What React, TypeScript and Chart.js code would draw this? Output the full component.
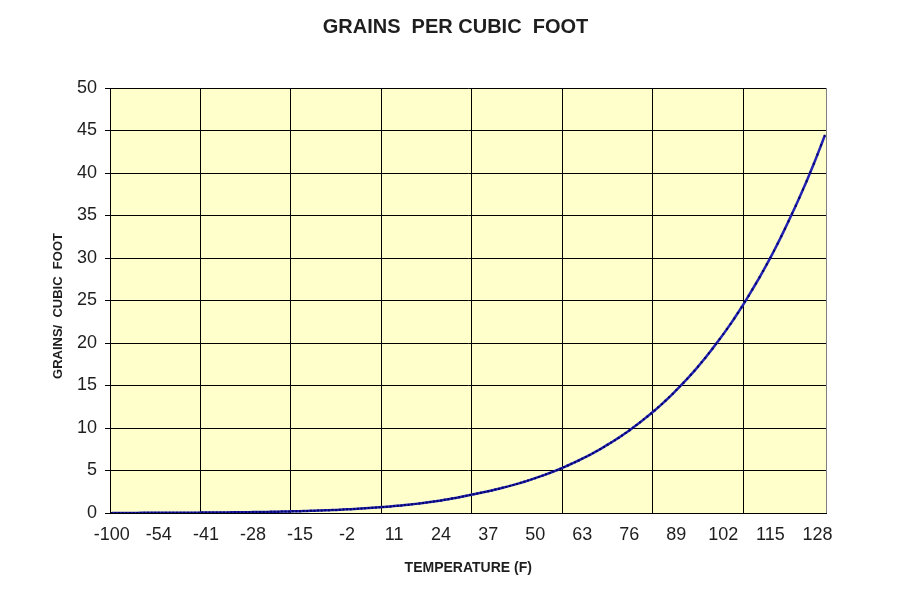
import React, { useEffect, useRef } from 'react';
import { Chart, registerables } from 'chart.js';

Chart.register(...registerables);

const TITLE = 'GRAINS  PER CUBIC  FOOT';
const X_TITLE = 'TEMPERATURE (F)';
const Y_TITLE = 'GRAINS/  CUBIC  FOOT';

const temperatures = [
  -100,
  -66, -65, -64, -63, -62, -61, -60,
  -59, -58, -57, -56, -55, -54, -53, -52, -51, -50,
  -49, -48, -47, -46, -45, -44, -43, -42, -41, -40,
  -39, -38, -37, -36, -35, -34, -33, -32, -31, -30,
  -29, -28, -27, -26, -25, -24, -23, -22, -21, -20,
  -19, -18, -17, -16, -15, -14, -13, -12, -11, -10,
  -9, -8, -7, -6, -5, -4, -3, -2, -1, 0,
  1, 2, 3, 4, 5, 6, 7, 8, 9, 10,
  11, 12, 13, 14, 15, 16, 17, 18, 19, 20,
  21, 22, 23, 24, 25, 26, 27, 28, 29, 30,
  31, 32, 33, 34, 35, 36, 37, 38, 39, 40,
  41, 42, 43, 44, 45, 46, 47, 48, 49, 50,
  51, 52, 53, 54, 55, 56, 57, 58, 59, 60,
  61, 62, 63, 64, 65, 66, 67, 68, 69, 70,
  71, 72, 73, 74, 75, 76, 77, 78, 79, 80,
  81, 82, 83, 84, 85, 86, 87, 88, 89, 90,
  91, 92, 93, 94, 95, 96, 97, 98, 99, 100,
  101, 102, 103, 104, 105, 106, 107, 108, 109, 110,
  111, 112, 113, 114, 115, 116, 117, 118, 119, 120,
  121, 122, 123, 124, 125, 126, 127, 128, 129, 130,
];

const grainsPerCubicFoot = [
  0.0007,
  0.0098, 0.0105, 0.0112, 0.0119, 0.0128, 0.0136, 0.0146,
  0.0156, 0.0166, 0.0178, 0.019, 0.0203, 0.0216, 0.0231, 0.0246, 0.0263, 0.0281,
  0.0299, 0.0318, 0.0338, 0.036, 0.0383, 0.0407, 0.0433, 0.0461, 0.049, 0.0522,
  0.0554, 0.0587, 0.0623, 0.0661, 0.0701, 0.0744, 0.0789, 0.0837, 0.0888, 0.0942,
  0.0997, 0.1054, 0.1115, 0.118, 0.1248, 0.132, 0.1397, 0.1478, 0.1563, 0.1654,
  0.1745, 0.1842, 0.1943, 0.205, 0.2164, 0.2283, 0.2409, 0.2542, 0.2683, 0.2831,
  0.298, 0.314, 0.33, 0.348, 0.366, 0.385, 0.406, 0.427, 0.449, 0.473,
  0.497, 0.522, 0.548, 0.576, 0.605, 0.635, 0.667, 0.701, 0.736, 0.773,
  0.81, 0.849, 0.89, 0.933, 0.978, 1.025, 1.074, 1.126, 1.18, 1.237,
  1.294, 1.354, 1.416, 1.481, 1.55, 1.621, 1.696, 1.774, 1.856, 1.941,
  2.029, 2.119, 2.2, 2.284, 2.372, 2.463, 2.557, 2.655, 2.757, 2.861,
  2.966, 3.074, 3.187, 3.304, 3.425, 3.55, 3.68, 3.815, 3.955, 4.1,
  4.244, 4.392, 4.546, 4.705, 4.87, 5.04, 5.217, 5.399, 5.588, 5.784,
  5.977, 6.177, 6.383, 6.596, 6.817, 7.044, 7.28, 7.523, 7.774, 8.038,
  8.296, 8.561, 8.836, 9.119, 9.411, 9.713, 10.024, 10.345, 10.677, 11.016,
  11.354, 11.702, 12.061, 12.431, 12.812, 13.205, 13.61, 14.027, 14.457, 14.899,
  15.337, 15.788, 16.252, 16.73, 17.222, 17.728, 18.249, 18.786, 19.338, 19.906,
  20.468, 21.045, 21.639, 22.249, 22.877, 23.522, 24.186, 24.868, 25.57, 26.289,
  27.0, 27.731, 28.481, 29.252, 30.044, 30.857, 31.692, 32.549, 33.43, 34.333,
  35.226, 36.143, 37.083, 38.048, 39.038, 40.054, 41.096, 42.165, 43.262, 44.39,
];

const LABEL_EVERY = 13;
const GRID_EVERY = 25;
const Y_MIN = 0;
const Y_MAX = 50;
const Y_STEP = 5;

const FONT = 'Arial, "Liberation Sans", sans-serif';
const TEXT = '#1e1e1e';

const decor = {
  id: 'decor',
  beforeDraw(chart: any) {
    const { ctx, chartArea: a } = chart;
    ctx.save();
    ctx.fillStyle = '#ffffff';
    ctx.fillRect(0, 0, chart.width, chart.height);
    ctx.fillStyle = '#FFFFCC';
    ctx.fillRect(a.left, a.top, a.right - a.left, a.bottom - a.top);
    ctx.restore();
  },
  beforeDatasetsDraw(chart: any) {
    const { ctx, chartArea: a } = chart;
    ctx.save();
    ctx.strokeStyle = '#808080';
    ctx.lineWidth = 1;
    ctx.beginPath();
    ctx.moveTo(Math.round(a.right) - 0.5, a.top);
    ctx.lineTo(Math.round(a.right) - 0.5, a.bottom);
    ctx.stroke();
    ctx.restore();
  },
  afterDraw(chart: any) {
    const { ctx } = chart;
    ctx.save();
    ctx.fillStyle = TEXT;
    ctx.font = `bold 20px ${FONT}`;
    ctx.textAlign = 'center';
    ctx.textBaseline = 'middle';
    ctx.fillText(TITLE, 455.5, 27.5);
    ctx.font = `bold 13px ${FONT}`;
    ctx.translate(58, 306);
    ctx.rotate(-Math.PI / 2);
    ctx.fillText(Y_TITLE, 0, 0);
    ctx.restore();
  },
};

export default function App() {
  const ref = useRef<HTMLCanvasElement | null>(null);

  useEffect(() => {
    if (!ref.current) return;
    Chart.defaults.font.family = FONT;
    const chart = new Chart(ref.current, {
      type: 'line',
      data: {
        labels: temperatures.map(String),
        datasets: [
          {
            data: grainsPerCubicFoot,
            borderColor: '#2222b4',
            borderWidth: 2.5,
            tension: 0,
            pointStyle: 'rect',
            pointRadius: 1.4,
            pointBackgroundColor: '#000060',
            pointBorderColor: '#000060',
            pointBorderWidth: 0,
            fill: false,
          },
        ],
      },
      options: {
        responsive: false,
        animation: false,
        events: [],
        layout: { padding: { top: 88, right: 74.5, bottom: 0, left: 0 } },
        plugins: {
          legend: { display: false },
          tooltip: { enabled: false },
          title: { display: false },
        },
        scales: {
          x: {
            type: 'category',
            offset: true,
            afterFit(scale: any) {
              scale.height = 100;
            },
            grid: {
              offset: true,
              drawTicks: false,
              lineWidth: 1,
              color: (c: any) => (c.index % GRID_EVERY === 0 ? '#000000' : 'rgba(0,0,0,0)'),
            },
            border: { display: true, color: '#000000', width: 1 },
            ticks: {
              autoSkip: false,
              maxRotation: 0,
              minRotation: 0,
              padding: 11,
              color: TEXT,
              font: { size: 18 },
              callback: (_v: any, i: number) => (i % LABEL_EVERY === 0 ? String(temperatures[i]) : ''),
            },
            title: {
              display: true,
              text: X_TITLE,
              color: TEXT,
              font: { size: 14, weight: 'bold' },
              padding: { top: 0, bottom: 36 },
            },
          },
          y: {
            type: 'linear',
            min: Y_MIN,
            max: Y_MAX,
            afterFit(scale: any) {
              scale.width = 110;
            },
            grid: {
              color: '#000000',
              lineWidth: 1,
              drawTicks: true,
              tickLength: 5,
            },
            border: { display: true, color: '#000000', width: 1 },
            ticks: {
              stepSize: Y_STEP,
              padding: 8,
              color: TEXT,
              font: { size: 18 },
            },
            title: { display: false },
          },
        },
      },
      plugins: [decor],
    });
    return () => chart.destroy();
  }, []);

  return (
    <div style={{ position: 'fixed', left: 0, top: 0, width: 901, height: 613, background: '#fff' }}>
      <canvas ref={ref} width={901} height={613} style={{ display: 'block' }} />
    </div>
  );
}
